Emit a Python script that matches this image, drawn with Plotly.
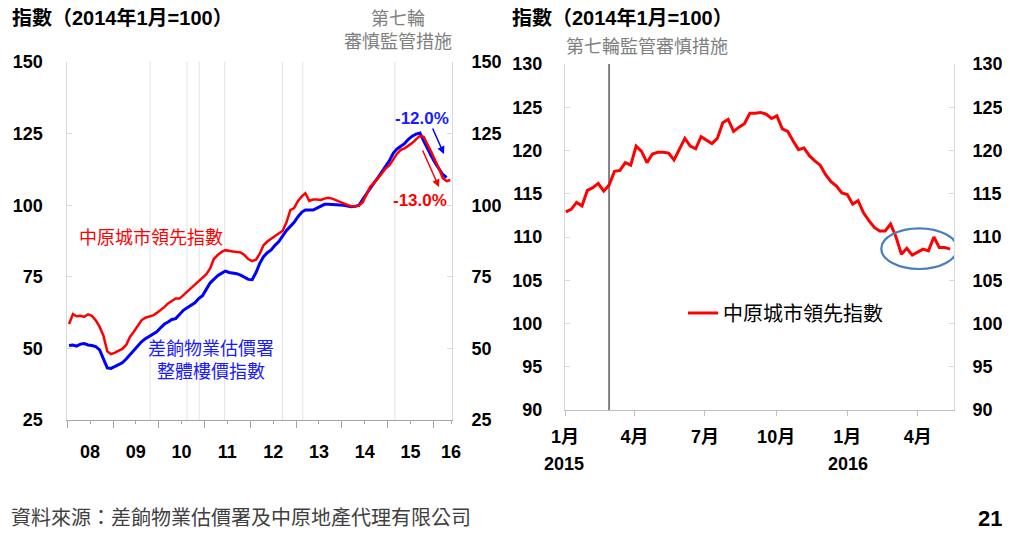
import plotly.graph_objects as go
import pandas as pd

# ---------------- DATA ----------------
# Left chart: monthly readings, Jan 2008 onwards
left_start = "2008-01-01"
ccl_left = [
    58.5, 62.0, 61.2, 61.4, 61.0, 61.9, 61.4, 59.8, 57.5, 54.5, 49.0, 48.0,
    48.5, 49.1, 49.8, 51.2, 54.0, 55.8, 57.6, 59.8, 60.7, 61.1, 61.5, 62.4,
    63.4, 64.5, 65.7, 66.7, 67.4, 67.4, 68.6, 70.0, 71.0, 72.1, 73.6, 74.7,
    75.9, 78.0, 81.2, 82.6, 83.6, 84.3, 84.0, 83.8, 83.7, 83.5, 82.6, 81.2,
    80.5, 81.0, 83.0, 86.0, 87.3, 88.3, 89.2, 90.2, 91.1, 94.0, 98.3, 99.0,
    101.5, 103.1, 104.2, 101.5, 102.0, 102.0, 101.8, 102.3, 102.6, 102.3, 101.8, 101.2,
    100.6, 100.1, 99.6, 99.6, 99.9, 101.0, 103.8, 106.5, 107.8, 109.3, 111.1, 112.8,
    114.0, 116.0, 117.9, 119.3, 119.8, 120.8, 121.7, 123.0, 124.2, 123.9, 121.3, 118.6,
    115.6, 112.8, 109.5, 108.4, 108.8,
]
rvd_left = [
    51.0, 51.2, 50.8, 51.5, 51.7, 51.2, 51.0, 50.6, 49.5, 46.5, 43.2, 43.0,
    43.7, 44.4, 45.0, 46.3, 47.8, 49.4, 50.9, 52.3, 53.4, 54.2, 54.9, 55.8,
    57.2, 58.5, 59.2, 60.1, 60.4, 61.8, 63.3, 64.2, 65.0, 65.9, 67.4, 68.4,
    70.7, 72.9, 74.1, 75.4, 76.2, 77.0, 76.5, 76.4, 76.1, 75.6, 74.9, 74.1,
    74.0, 76.5, 79.6, 82.0, 83.4, 84.4, 86.0, 87.3, 89.3, 91.2, 92.6, 94.0,
    96.0, 97.6, 98.3, 98.3, 98.3, 99.0, 99.6, 100.3, 100.3, 100.3, 100.2, 100.1,
    100.0, 99.8, 99.5, 99.6, 99.9, 102.0, 104.0, 106.0, 107.9, 109.6, 111.5, 113.5,
    115.6, 118.2, 119.6, 120.6, 121.5, 123.0, 124.1, 124.8, 125.2, 122.5, 119.5, 117.2,
    114.7, 112.4, 110.7, 109.7,
]
left_year_tickvals = ["2008-07-01", "2009-07-01", "2010-07-01", "2011-07-01", "2012-07-01",
                      "2013-07-01", "2014-07-01", "2015-07-01", "2016-05-20"]
left_year_ticktext = ["08", "09", "10", "11", "12", "13", "14", "15", "16"]
policy_dates = ["2009-10-23", "2010-08-13", "2010-11-19", "2011-06-10",
                "2012-09-14", "2013-02-22", "2015-02-27"]

# Right chart: weekly readings from early Jan 2015
right_start = "2015-01-02"
ccl_right = [
    112.9, 113.2, 114.0, 113.6, 115.4, 115.7, 116.2, 115.3, 116.0, 117.6, 117.7, 118.6,
    118.3, 120.5, 119.9, 118.6, 119.6, 119.8, 119.8, 119.7, 118.9, 120.2, 121.4, 120.5,
    120.2, 121.6, 121.2, 120.8, 121.4, 123.2, 123.6, 122.2, 122.7, 123.1, 124.3, 124.3,
    124.4, 124.2, 123.7, 124.0, 122.5, 122.2, 121.1, 120.1, 120.3, 119.4, 118.8, 118.3,
    117.2, 116.4, 115.9, 115.1, 114.9, 113.8, 114.2, 112.8, 111.9, 111.1, 110.7, 110.7,
    111.5, 110.0, 108.0, 108.7, 107.9, 108.3, 108.6, 108.4, 110.0, 108.8, 108.8, 108.6,
]
right_tickvals = ["2015-01-01", "2015-04-01", "2015-07-01", "2015-10-01", "2016-01-01", "2016-04-01"]
right_ticktext = ["1月", "4月", "7月", "10月", "1月", "4月"]
right_policy_date = "2015-02-27"

# ---------------- STYLE ----------------
RED = "#ff0000"
BLUE = "#0000ff"
GRAY_TXT = "#808080"
AX = "#d9d9d9"
FONT = "Liberation Sans, Arial, Noto Sans CJK TC, sans-serif"
OFF = 8                      # page body margin
W, H = 1010 - OFF, 546 - OFF

def px(x):
    return (x - OFF) / W

def py(y):
    return 1 - (y - OFF) / H

left_dates = pd.date_range(left_start, periods=len(ccl_left), freq="MS") + pd.Timedelta(days=14)
right_dates = pd.date_range(right_start, periods=len(ccl_right), freq="7D")

fig = go.Figure()
fig.add_trace(go.Scatter(x=left_dates[:len(rvd_left)], y=rvd_left, mode="lines",
                         line=dict(color=BLUE, width=3), xaxis="x", yaxis="y", showlegend=False))
fig.add_trace(go.Scatter(x=left_dates, y=ccl_left, mode="lines",
                         line=dict(color=RED, width=2.5), xaxis="x", yaxis="y", showlegend=False))
fig.add_trace(go.Scatter(x=left_dates, y=ccl_left, mode="lines", opacity=0, hoverinfo="skip",
                         line=dict(width=0), xaxis="x", yaxis="y3", showlegend=False))
fig.add_trace(go.Scatter(x=right_dates, y=ccl_right, mode="lines", name="中原城市領先指數",
                         line=dict(color=RED, width=3), xaxis="x2", yaxis="y2", showlegend=True))
fig.add_trace(go.Scatter(x=right_dates, y=ccl_right, mode="lines", opacity=0, hoverinfo="skip",
                         line=dict(width=0), xaxis="x2", yaxis="y4", showlegend=False))

tickfont = dict(family=FONT, size=18, color="black", weight="bold")

L_DOM = [px(67.3), px(452)]
L_YDOM = [py(420), py(62)]
R_DOM = [px(565), px(954)]
R_YDOM = [py(410), py(64)]

def yax(standoff):
    return dict(showgrid=False, zeroline=False, showline=True, linecolor=AX, linewidth=1,
                ticks="inside", ticklen=5, tickcolor=AX, tickfont=tickfont,
                ticklabelstandoff=standoff, automargin=False)

fig.update_layout(
    width=W, height=H, margin=dict(l=0, r=0, t=0, b=0, autoexpand=False),
    paper_bgcolor="white", plot_bgcolor="white",
    font=dict(family=FONT, size=18, color="black"),
    xaxis=dict(domain=L_DOM, anchor="y", type="date", range=["2008-01-01", "2016-05-28"],
               tickmode="array", tickvals=left_year_tickvals, ticktext=left_year_ticktext,
               ticks="outside", ticklen=3, tickcolor="#a6a6a6", showgrid=False, zeroline=False,
               showline=True, linecolor="#a6a6a6", linewidth=1, tickfont=tickfont,
               ticklabelstandoff=12, automargin=False,
               minor=dict(ticks="outside", ticklen=7, tickcolor="#a6a6a6", dtick="M12",
                          tick0="2008-01-01", showgrid=False)),
    yaxis=dict(domain=L_YDOM, anchor="x", range=[25, 150], tickvals=[25, 50, 75, 100, 125, 150],
               side="left", **yax(20)),
    yaxis3=dict(overlaying="y", anchor="x", side="right", range=[25, 150],
                tickvals=[25, 50, 75, 100, 125, 150], **yax(15)),
    xaxis2=dict(domain=R_DOM, anchor="y2", type="date", range=["2015-01-01", "2016-05-18"],
                tickmode="array", tickvals=right_tickvals, ticktext=right_ticktext,
                ticks="outside", ticklen=5, tickcolor="#bfbfbf", showgrid=False, zeroline=False,
                showline=True, linecolor="#bfbfbf", linewidth=1, tickfont=tickfont,
                ticklabelstandoff=5, automargin=False),
    yaxis2=dict(domain=R_YDOM, anchor="x2", range=[90, 130], dtick=5, tick0=90,
                side="left", **yax(18)),
    yaxis4=dict(overlaying="y2", anchor="x2", side="right", range=[90, 130], dtick=5, tick0=90,
                **yax(14)),
    legend=dict(x=px(683), y=py(313), xanchor="left", yanchor="middle",
                bgcolor="rgba(0,0,0,0)", font=dict(family=FONT, size=20, color="black")),
)

shapes = []
for d in policy_dates:
    shapes.append(dict(type="line", xref="x", yref="y domain", x0=d, x1=d, y0=0, y1=1,
                       line=dict(color="#e3e3e3", width=1), layer="below"))
shapes.append(dict(type="line", xref="x2", yref="y2 domain", x0=right_policy_date,
                   x1=right_policy_date, y0=0, y1=1, line=dict(color="#808080", width=2),
                   layer="below"))
shapes.append(dict(type="circle", xref="x2", yref="y2", x0="2016-02-14", x1="2016-05-22",
                   y0=106.3, y1=111.0, line=dict(color="#4a7ebb", width=2.2)))
fig.update_layout(shapes=shapes)

ann = []
def txt(text, x, y, size=18, color="black", bold=False, xanchor="center", yanchor="middle"):
    ann.append(dict(text=text, x=px(x), y=py(y), xref="paper", yref="paper",
                    xanchor=xanchor, yanchor=yanchor, showarrow=False,
                    font=dict(family=FONT, size=size, color=color,
                              weight="bold" if bold else "normal")))

txt("指數（2014年1月=100）", 10, 18, size=20, bold=True, xanchor="left")
txt("指數（2014年1月=100）", 510, 18, size=20, bold=True, xanchor="left")
txt("第七輪<br>審慎監管措施", 398, 31, size=18, color=GRAY_TXT)
txt("第七輪監管審慎措施", 647, 47, size=18, color=GRAY_TXT)
txt("中原城市領先指數", 151, 238, size=18, color=RED)
txt("差餉物業估價署<br>整體樓價指數", 211, 360, size=18, color="#1a1aff")
txt("-12.0%", 422, 118, size=17, color="#1a1aff", bold=True)
txt("-13.0%", 420, 200, size=17, color=RED, bold=True)
txt("2015", 564, 464, bold=True)
txt("2016", 848, 464, bold=True)
txt("資料來源：差餉物業估價署及中原地產代理有限公司", 9, 518, size=20, color="#404040",
    xanchor="left")
txt("21", 1004, 518, size=22, bold=True, xanchor="right")

# arrows
ann.append(dict(x=px(444), y=py(154), xref="paper", yref="paper", text="", showarrow=True,
                ax=-12, ay=-27, arrowhead=2, arrowsize=1, arrowwidth=1.5, arrowcolor=BLUE))
ann.append(dict(x=px(439), y=py(187), xref="paper", yref="paper", text="", showarrow=True,
                ax=-17, ay=-38, arrowhead=2, arrowsize=1, arrowwidth=1.5, arrowcolor=RED))
fig.update_layout(annotations=ann)

fig.write_html("out.html")
